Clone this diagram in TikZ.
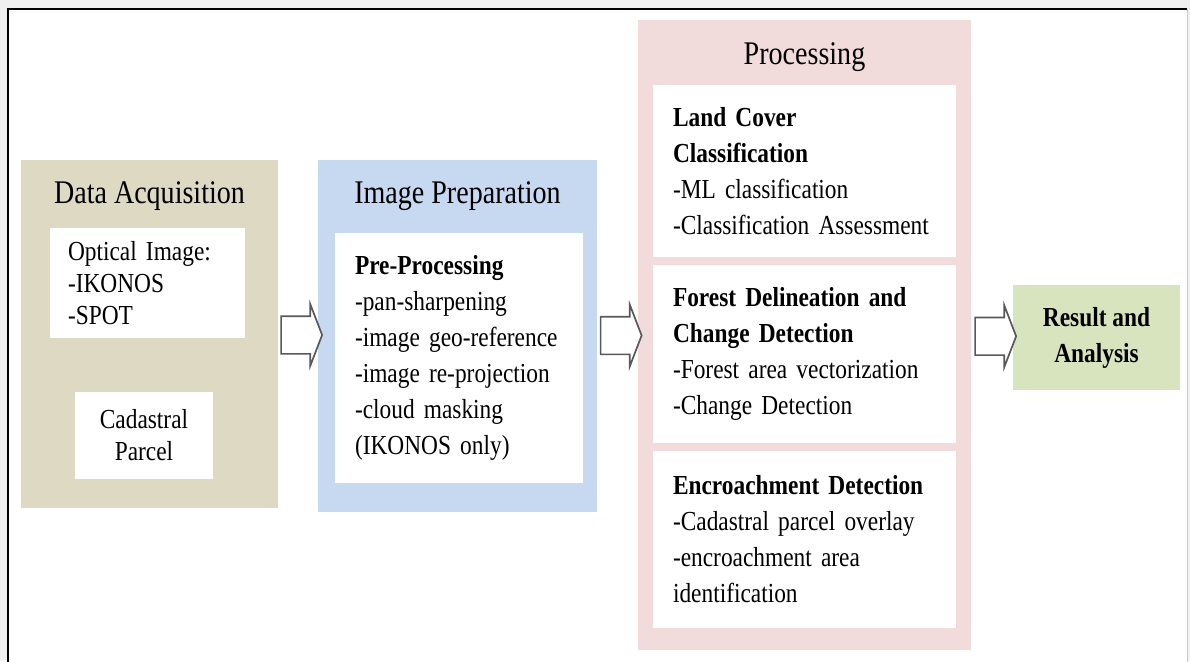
\documentclass[tikz,border=0pt]{standalone}
\usepackage{fontspec}
\setmainfont{Liberation Serif}[FakeStretch=0.85]
\usepackage{xcolor}
\definecolor{acqtan}{HTML}{DDD9C3}
\definecolor{prepblue}{HTML}{C6D9F1}
\definecolor{procpink}{HTML}{F2DCDB}
\definecolor{resgreen}{HTML}{D7E4BD}
\definecolor{arrgray}{HTML}{595959}
\definecolor{pagegray}{HTML}{F0F0F0}
\usetikzlibrary{positioning,shapes.arrows,calc}
\newcommand{\bodyfont}{\fontsize{27.5pt}{36pt}\selectfont}
\newcommand{\tightfont}{\fontsize{27.5pt}{32pt}\selectfont}
\newcommand{\titlefont}{\fontsize{33pt}{38pt}\selectfont}

\begin{document}
\begin{tikzpicture}[x=1pt,y=-1pt,node distance=8pt]
\tikzset{
 grp/.style={fill=#1,inner sep=0pt,outer sep=0pt},
 ttl/.style={inner sep=0pt,anchor=north,font=\titlefont},
 wbox/.style={fill=white,inner xsep=20pt,inner ysep=0pt,outer sep=0pt,align=left,font=\bodyfont},
 blk/.style={single arrow,draw=arrgray,fill=white,line width=1.7pt,minimum height=41pt,
  inner xsep=0pt,inner ysep=18pt,single arrow head extend=12pt,single arrow tip angle=138}
}
\useasboundingbox (0,0) rectangle (1190,661);
\fill[pagegray] (0,0) rectangle (1190,661);
\fill[white] (8,9) rectangle (1187,680);
\draw[line width=2pt] (8,680) -- (8,9) -- (1187,9);
\draw[black!20,line width=1pt] (1187,9) -- (1187,680);

\node[grp=acqtan,minimum width=257pt,minimum height=348pt] (acq) at (149.5,334) {};
\node[ttl,below=21pt of acq.north] (acqt) {Data Acquisition};
\node[wbox,font=\tightfont,inner xsep=18pt,text width=159pt,minimum height=110pt] (optical) at (147.5,283) {Optical Image:\\-IKONOS\\-SPOT};
\node[wbox,font=\tightfont,align=center,inner xsep=0pt,text width=138pt,minimum height=87pt] (cadastral) at (144,435.5) {Cadastral\\Parcel};

\node[grp=prepblue,minimum width=279pt,minimum height=352pt] (prep) at (457.5,336) {};
\node[ttl,below=21pt of prep.north] (prept) {Image Preparation};
\node[wbox,text width=208pt,minimum height=250pt] (preproc) at (459,358)
 {\textbf{Pre-Processing}\\-pan-sharpening\\-image geo-reference\\-image re-projection\\-cloud masking\\(IKONOS only)};

\node[grp=procpink,minimum width=333pt,minimum height=630pt] (proc) at (804.5,335) {};
\node[ttl,below=22pt of proc.north] (proct) {Processing};
\node[wbox,text width=263pt,minimum height=172pt] (landcover) at (804.5,171)
 {\textbf{Land Cover}\\\textbf{Classification}\\-ML classification\\-Classification Assessment};
\node[wbox,text width=263pt,minimum height=178pt,below=of landcover] (forest)
 {\textbf{Forest Delineation and}\\\textbf{Change Detection}\\-Forest area vectorization\\-Change Detection};
\node[wbox,text width=263pt,minimum height=177pt,below=of forest] (encroach)
 {\textbf{Encroachment Detection}\\-Cadastral parcel overlay\\-encroachment area\\identification};

\node[grp=resgreen,minimum width=167pt,minimum height=105pt,align=center,font=\bodyfont\bfseries] (res) at (1096.5,337.5) {Result and\\Analysis};

\node[blk] (a1) at ($(acq.east)!0.5!(prep.west)$) {};
\node[blk] (a2) at ($(prep.east)!0.5!(proc.west)$) {};
\node[blk] (a3) at ($(proc.east)!0.5!(res.west)$) {};
\end{tikzpicture}
\end{document}
